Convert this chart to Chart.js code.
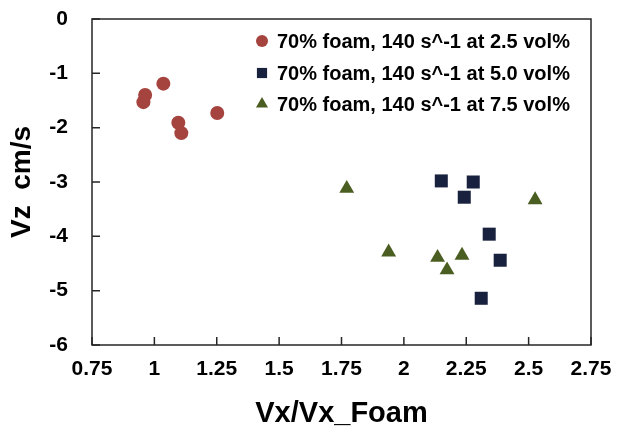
<!DOCTYPE html>
<html>
<head>
<meta charset="utf-8">
<script src="https://cdn.jsdelivr.net/npm/chart.js@4.4.0/dist/chart.umd.min.js"></script>
<style>
  body { margin: 0; background: #fff; }
  #wrap { width: 617px; height: 431px; }
</style>
</head>
<body>
<div id="wrap"><canvas id="myChart"></canvas></div>
<script>
// series
let names = ['70% foam, 140 s^-1 at 2.5 vol%', '70% foam, 140 s^-1 at 5.0 vol%', '70% foam, 140 s^-1 at 7.5 vol%'];
let x25 = [0.963, 0.956, 1.036, 1.096, 1.108, 1.252];
let y25 = [-1.40, -1.53, -1.19, -1.91, -2.10, -1.73];
let x50 = [2.150, 2.278, 2.242, 2.342, 2.386, 2.310];
let y50 = [-2.98, -3.00, -3.28, -3.96, -4.44, -5.14];
let x75 = [1.771, 1.939, 2.135, 2.173, 2.233, 2.526];
let y75 = [-3.12, -4.29, -4.39, -4.62, -4.35, -3.33];
let xTicks = [0.75, 1, 1.25, 1.5, 1.75, 2, 2.25, 2.5, 2.75];
let yTicks = [0, -1, -2, -3, -4, -5, -6];

function pts(xs, ys) {
    return xs.map((v, i) => ({ x: v, y: ys[i] }));
}

const FONT = "'Liberation Sans', Arial, sans-serif";

// plot frame + inward tick marks
const frame = {
    id: 'frame',
    beforeDatasetsDraw(chart) {
        const { ctx, chartArea: a, scales: { x, y } } = chart;
        ctx.save();
        ctx.strokeStyle = '#262626';
        ctx.lineWidth = 1.5;
        ctx.strokeRect(a.left, a.top, a.width, a.height);
        ctx.beginPath();
        x.ticks.forEach(t => {
            let px = x.getPixelForValue(t.value);
            ctx.moveTo(px, a.bottom);
            ctx.lineTo(px, a.bottom - 8);
        });
        y.ticks.forEach(t => {
            let py = y.getPixelForValue(t.value);
            ctx.moveTo(a.left, py);
            ctx.lineTo(a.left + 8, py);
        });
        ctx.stroke();
        ctx.restore();
    }
};

// legend sitting inside the plot, top right
const insideLegend = {
    id: 'insideLegend',
    afterDraw(chart) {
        const ctx = chart.ctx;
        const rows = [41, 73, 104];
        const sizes = [6, 7.2, 7];
        ctx.save();
        chart.data.datasets.forEach((ds, i) => {
            ctx.fillStyle = ds.backgroundColor;
            ctx.strokeStyle = ds.borderColor;
            if (Chart.helpers && Chart.helpers.drawPoint) {
                Chart.helpers.drawPoint(ctx, { pointStyle: ds.pointStyle, rotation: 0, radius: sizes[i], borderWidth: 0 }, 262, rows[i]);
            }
            ctx.fillStyle = '#000';
            ctx.font = 'bold 20px ' + FONT;
            ctx.textBaseline = 'middle';
            ctx.textAlign = 'left';
            ctx.fillText(ds.label, 277, rows[i] + 1);
        });
        ctx.restore();
    }
};

let ctx = document.getElementById('myChart');
let chart = new Chart(ctx, {
    type: 'scatter',
    data: {
        datasets: [
            {
                label: names[0],
                data: pts(x25, y25),
                pointStyle: 'circle',
                pointRadius: 7,
                backgroundColor: '#A5443E',
                borderColor: '#A5443E',
                borderWidth: 0
            },
            {
                label: names[1],
                data: pts(x50, y50),
                pointStyle: 'rect',
                pointRadius: 9.2,
                backgroundColor: '#18213D',
                borderColor: '#18213D',
                borderWidth: 0
            },
            {
                label: names[2],
                data: pts(x75, y75),
                pointStyle: 'triangle',
                pointRadius: 8.6,
                backgroundColor: '#4B5E22',
                borderColor: '#4B5E22',
                borderWidth: 0
            }
        ]
    },
    options: {
        animation: false,
        responsive: true,
        maintainAspectRatio: false,
        layout: { padding: { top: 19, right: 26, bottom: 0, left: 0 } },
        plugins: {
            legend: { display: false },
            tooltip: { enabled: false }
        },
        scales: {
            x: {
                type: 'linear',
                min: 0.75,
                max: 2.75,
                afterBuildTicks: s => { s.ticks = xTicks.map(v => ({ value: v })); },
                afterFit: s => { s.height = 86; s.paddingLeft = 5; s.paddingRight = 5; },
                grid: { display: false, drawTicks: false },
                border: { display: false },
                ticks: {
                    padding: 12,
                    color: '#000',
                    font: { family: FONT, size: 21, weight: 'bold' },
                    callback: v => String(v)
                },
                title: {
                    display: true,
                    text: 'Vx/Vx_Foam',
                    color: '#000',
                    padding: 0,
                    font: { family: FONT, size: 29, weight: 'bold' }
                }
            },
            y: {
                type: 'linear',
                min: -6,
                max: 0,
                afterBuildTicks: s => { s.ticks = yTicks.map(v => ({ value: v })); },
                afterFit: s => { s.width = 92; s.paddingTop = 5; s.paddingBottom = 5; },
                grid: { display: false, drawTicks: false },
                border: { display: false },
                ticks: {
                    padding: 24,
                    color: '#000',
                    font: { family: FONT, size: 21, weight: 'bold' },
                    callback: v => String(v)
                },
                title: {
                    display: true,
                    text: 'Vz  cm/s',
                    color: '#000',
                    padding: { top: 5, bottom: 0 },
                    font: { family: FONT, size: 28, weight: 'bold' }
                }
            }
        }
    },
    plugins: [frame, insideLegend]
});
</script>
</body>
</html>
